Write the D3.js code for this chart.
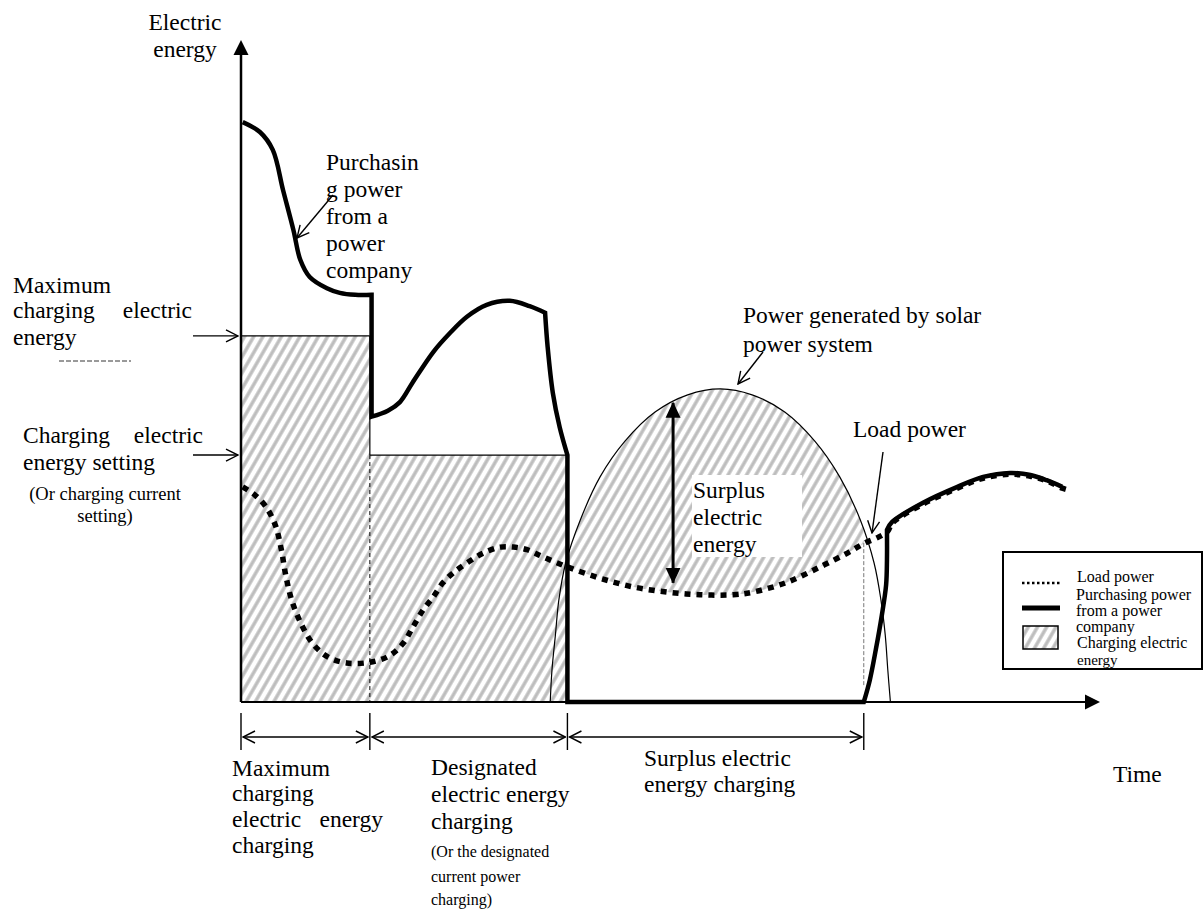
<!DOCTYPE html>
<html>
<head>
  <meta charset="utf-8">
  <script src="https://d3js.org/d3.v7.min.js"></script>
  <style>
    body { margin: 0; background: #fff; }
    text { font-family: 'Liberation Serif', 'Times New Roman', serif; fill: #000; }
    .thin { fill: none; stroke: #000; stroke-width: 1.2px; }
    .purchase { fill: none; stroke: #000; stroke-width: 4.5px; stroke-linejoin: miter; }
    .load { fill: none; stroke: #000; stroke-width: 5.5px; stroke-dasharray: 6 6; }
  </style>
</head>
<body>
<div id="chart"></div>
<script>
  // schematic units: time 0..100 along x, electric energy 0..100 along y

  // load power (dotted)
  var loadT = [0.2, 1.6, 2.9, 4.0, 4.7, 5.2, 5.9, 6.9, 8.3, 10.1, 12.3, 15.0, 17.3, 18.9, 20.0, 21.2,
               22.4, 23.5, 24.7, 26.3, 28.2, 30.2, 31.7, 33.3, 35.2, 38.0, 41.8, 45.6, 49.6, 53.4,
               57.3, 59.6, 63.6, 67.4, 70.6, 72.6, 74.2, 75.3, 75.8, 79.4, 83.4, 86.4, 89.5, 91.9,
               93.8, 95.6, 96.7];
  var loadE = [32.5, 31.3, 29.5, 26.7, 23.0, 19.2, 15.4, 12.1, 8.9, 6.8, 5.9, 6.0, 7.0, 8.9, 11.3, 13.9,
               15.9, 18.0, 19.5, 21.0, 22.5, 23.4, 23.4, 23.0, 21.9, 20.4, 18.7, 17.4, 16.6, 16.2,
               16.2, 16.6, 18.1, 20.4, 22.5, 24.0, 24.9, 25.8, 27.0, 29.9, 32.3, 33.8, 34.4, 34.1,
               33.4, 32.3, 31.9];

  // purchasing power from a power company (thick)
  var purchaseT = [0.2, 2.2, 3.7, 4.9, 6.1, 6.9, 8.0, 10.0, 11.5, 13.3, 15.2, 15.2, 17.1, 18.5, 20.0,
                   22.4, 24.3, 26.3, 28.6, 31.3, 33.6, 35.4, 35.7, 36.3, 37.1, 38.0, 38.0, 72.5, 73.2,
                   73.9, 74.6, 75.1, 75.2, 75.2, 75.8, 79.4, 83.4, 86.4, 89.5, 91.9, 93.8, 95.6];
  var purchaseE = [87.6, 86.1, 83.4, 77.3, 71.3, 66.8, 64.2, 62.5, 61.8, 61.5, 61.5, 43.1, 44.0, 45.3, 48.3,
                   52.9, 55.7, 58.2, 60.0, 60.6, 59.8, 58.8, 53.6, 46.7, 41.5, 37.3, 0, 0, 3.3,
                   7.9, 13.1, 17.7, 21.5, 26.0, 27.2, 30.1, 32.5, 34.0, 34.6, 34.3, 33.5, 32.5];
  // indexes where the purchase line has a sharp corner
  var purchaseCorners = [10, 11, 21, 25, 26, 27, 33];

  // power generated by the solar power system
  var solarT = [36.0, 36.2, 36.6, 37.0, 37.8, 39.5, 41.8, 44.7, 48.2, 52.0, 55.8, 59.5, 63.3, 66.8,
                69.7, 72.1, 73.7, 74.5, 75.0, 75.3, 75.6];
  var solarE = [0, 4.8, 10.1, 15.4, 21.0, 27.5, 34.0, 39.4, 43.8, 46.4, 47.3, 46.4, 43.8, 39.4,
                34.0, 27.5, 21.0, 15.4, 10.1, 4.8, 0];

  // charging phases and levels
  var phaseBounds = [0, 15.0, 38.0, 72.5];
  var maxChargeLevel = 55.3;
  var chargeSettingLevel = 37.3;
  var loadAtSurplusEnd = 24.0;
  var surplusArrowT = 50.3, surplusArrowE = [18.0, 45.2];

  /* setup */
  var width = 1204, height = 914;
  var svg = d3.select("#chart").append("svg")
      .attr("width", width).attr("height", height);

  var x = d3.scaleLinear().domain([0, 100]).range([241, 1100]);
  var y = d3.scaleLinear().domain([0, 100]).range([702, 40]);

  var line = d3.line()
      .x(function(d) { return x(d[0]); })
      .y(function(d) { return y(d[1]); })
      .curve(d3.curveCatmullRom.alpha(0.5));

  var defs = svg.append("defs");

  // grey diagonal hatching
  var pat = defs.append("pattern")
      .attr("id", "hatch")
      .attr("patternUnits", "userSpaceOnUse")
      .attr("width", 8).attr("height", 8)
      .attr("patternTransform", "rotate(30)");
  pat.append("line")
      .attr("x1", 4).attr("y1", -1).attr("x2", 4).attr("y2", 9)
      .attr("stroke", "#bdbdbd").attr("stroke-width", 3.4);

  // open arrow head
  defs.append("marker")
      .attr("id", "open")
      .attr("viewBox", "0 0 14 14")
      .attr("refX", 13).attr("refY", 7)
      .attr("markerWidth", 14).attr("markerHeight", 14)
      .attr("markerUnits", "userSpaceOnUse")
      .attr("orient", "auto-start-reverse")
    .append("path")
      .attr("d", "M1,1 L13,7 L1,13")
      .attr("fill", "none").attr("stroke", "#000").attr("stroke-width", 1.4);

  // filled arrow head
  defs.append("marker")
      .attr("id", "solid")
      .attr("viewBox", "0 0 16 16")
      .attr("refX", 15).attr("refY", 8)
      .attr("markerWidth", 16).attr("markerHeight", 16)
      .attr("markerUnits", "userSpaceOnUse")
      .attr("orient", "auto-start-reverse")
    .append("path")
      .attr("d", "M0,0.5 L16,8 L0,15.5 Z")
      .attr("fill", "#000");

  var loadPts = d3.zip(loadT, loadE);
  var solarPts = d3.zip(solarT, solarE);

  // clip: everything above the load curve
  var loadPath = line(loadPts);
  defs.append("clipPath").attr("id", "aboveLoad")
    .append("path")
      .attr("d", loadPath + "L" + x(loadT[loadT.length - 1]) + "," + y(100) +
                 "L" + x(loadT[0]) + "," + y(100) + "Z");
  defs.append("clipPath").attr("id", "surplusSpan")
    .append("rect")
      .attr("x", x(phaseBounds[2])).attr("y", 0)
      .attr("width", x(phaseBounds[3]) - x(phaseBounds[2]))
      .attr("height", y(0));

  /* hatched charging areas */
  svg.append("rect")
      .attr("x", x(phaseBounds[0])).attr("y", y(maxChargeLevel))
      .attr("width", x(phaseBounds[1]) - x(phaseBounds[0]))
      .attr("height", y(0) - y(maxChargeLevel))
      .attr("fill", "url(#hatch)");
  svg.append("rect")
      .attr("x", x(phaseBounds[1])).attr("y", y(chargeSettingLevel))
      .attr("width", x(phaseBounds[2]) - x(phaseBounds[1]))
      .attr("height", y(0) - y(chargeSettingLevel))
      .attr("fill", "url(#hatch)");
  svg.append("g").attr("clip-path", "url(#surplusSpan)")
    .append("path")
      .attr("d", line(solarPts) + "Z")
      .attr("clip-path", "url(#aboveLoad)")
      .attr("fill", "url(#hatch)");

  // white box behind the surplus label
  svg.append("rect")
      .attr("x", 692).attr("y", 475).attr("width", 110).attr("height", 82)
      .attr("fill", "#fff");

  /* thin guide lines */
  svg.append("line").attr("class", "thin")
      .attr("x1", x(phaseBounds[0])).attr("x2", x(phaseBounds[1]))
      .attr("y1", y(maxChargeLevel)).attr("y2", y(maxChargeLevel));
  svg.append("line").attr("class", "thin")
      .attr("x1", x(phaseBounds[1])).attr("x2", x(phaseBounds[2]))
      .attr("y1", y(chargeSettingLevel)).attr("y2", y(chargeSettingLevel));
  svg.append("line").attr("class", "thin")
      .attr("x1", x(phaseBounds[1])).attr("x2", x(phaseBounds[1]))
      .attr("y1", y(maxChargeLevel)).attr("y2", y(chargeSettingLevel));
  svg.append("line").attr("class", "thin")
      .attr("x1", x(phaseBounds[1])).attr("x2", x(phaseBounds[1]))
      .attr("y1", y(chargeSettingLevel)).attr("y2", y(0))
      .style("stroke-width", "1px").style("stroke-dasharray", "4 3");
  svg.append("line").attr("class", "thin")
      .attr("x1", x(phaseBounds[3])).attr("x2", x(phaseBounds[3]))
      .attr("y1", y(loadAtSurplusEnd)).attr("y2", y(2.5))
      .style("stroke", "#777").style("stroke-width", "1px").style("stroke-dasharray", "4 2");

  // solar generation arc
  svg.append("path").attr("class", "thin").attr("d", line(solarPts));

  /* axes */
  svg.append("line")
      .attr("x1", x(0)).attr("y1", y(0)).attr("x2", x(0)).attr("y2", y(100) + 14)
      .attr("stroke", "#000").attr("stroke-width", 2.5);
  svg.append("path")
      .attr("d", "M" + x(0) + "," + y(100) + " l-7.5,15 l15,0 Z");
  svg.append("line")
      .attr("x1", x(0)).attr("y1", y(0)).attr("x2", x(100) - 14).attr("y2", y(0))
      .attr("stroke", "#000").attr("stroke-width", 2);
  svg.append("path")
      .attr("d", "M" + x(100) + "," + y(0) + " l-15,-7.5 l0,15 Z");

  /* load & purchase lines */
  svg.append("path").attr("class", "load").attr("d", loadPath);

  function piecewise(ts, es, corners) {
    var cuts = [0].concat(corners, [ts.length - 1]);
    var d = "";
    for (var i = 0; i < cuts.length - 1; i++) {
      var pts = d3.range(cuts[i], cuts[i + 1] + 1).map(function(k) { return [ts[k], es[k]]; });
      var s = line(pts);
      d += (i === 0) ? s : s.replace(/^M/, "L");
    }
    return d;
  }
  svg.append("path").attr("class", "purchase")
      .attr("d", piecewise(purchaseT, purchaseE, purchaseCorners));

  // surplus double arrow
  svg.append("line")
      .attr("x1", x(surplusArrowT)).attr("x2", x(surplusArrowT))
      .attr("y1", y(surplusArrowE[0])).attr("y2", y(surplusArrowE[1]))
      .attr("stroke", "#000").attr("stroke-width", 3)
      .attr("marker-start", "url(#solid)").attr("marker-end", "url(#solid)");

  /* helpers for annotation */
  function label(px, py, str, size, anchor) {
    return svg.append("text")
        .attr("x", px).attr("y", py)
        .attr("font-size", size + "px")
        .attr("text-anchor", anchor || "start")
        .text(str);
  }
  function pointer(x1, y1, x2, y2, twoWay) {
    var l = svg.append("line")
        .attr("x1", x1).attr("y1", y1).attr("x2", x2).attr("y2", y2)
        .attr("stroke", "#000").attr("stroke-width", 1.4)
        .attr("marker-end", "url(#open)");
    if (twoWay) l.attr("marker-start", "url(#open)");
  }

  var big = 23.5, mid = 18.5, small = 16;

  // axis titles
  label(185, 30, "Electric", big, "middle");
  label(185, 57, "energy", big, "middle");
  label(1113, 782, "Time", big);

  // left side labels
  label(13, 293, "Maximum", big);
  label(13, 318, "charging", big);
  label(192, 318, "electric", big, "end");
  label(13, 345, "energy", big);
  svg.append("line")
      .attr("x1", 59).attr("x2", 131).attr("y1", 361).attr("y2", 361)
      .attr("stroke", "#000").attr("stroke-width", 0.8).attr("stroke-dasharray", "5 2");
  pointer(193, y(maxChargeLevel), 238, y(maxChargeLevel));

  label(23, 443, "Charging", big);
  label(203, 443, "electric", big, "end");
  label(23, 470, "energy setting", big);
  label(105, 500, "(Or charging current", mid, "middle");
  label(105, 522, "setting)", mid, "middle");
  pointer(193, y(chargeSettingLevel), 238, y(chargeSettingLevel));

  // purchase label
  ["Purchasin", "g power", "from a", "power", "company"].forEach(function(s, i) {
    label(326, 170 + i * 27, s, big);
  });
  pointer(333, 195, 297, 238);

  // solar label
  label(743, 323, "Power generated by solar", big);
  label(743, 352, "power system", big);
  pointer(763, 352, 738, 384);

  // load label
  label(853, 437, "Load power", big);
  pointer(883, 452, 872, 533);

  // surplus label
  label(693, 498, "Surplus", big);
  label(693, 525, "electric", big);
  label(693, 552, "energy", big);

  /* phase brackets under the time axis */
  phaseBounds.forEach(function(b) {
    svg.append("line")
        .attr("x1", x(b)).attr("x2", x(b)).attr("y1", 713).attr("y2", 750)
        .attr("stroke", "#000").attr("stroke-width", 1.4);
  });
  for (var i = 0; i < phaseBounds.length - 1; i++) {
    pointer(x(phaseBounds[i]) + 2, 737, x(phaseBounds[i + 1]) - 2, 737, true);
  }

  label(232, 776, "Maximum", big);
  label(232, 801, "charging", big);
  label(232, 827, "electric", big);
  label(383, 827, "energy", big, "end");
  label(232, 853, "charging", big);

  label(431, 775, "Designated", big);
  label(431, 802, "electric energy", big);
  label(431, 829, "charging", big);
  label(431, 857, "(Or the designated", small);
  label(431, 882, "current power", small);
  label(431, 905, "charging)", small);

  label(644, 766, "Surplus electric", big);
  label(644, 792, "energy charging", big);

  /* legend */
  var lg = svg.append("g");
  lg.append("rect")
      .attr("x", 1003).attr("y", 552).attr("width", 199).attr("height", 117)
      .attr("fill", "#fff").attr("stroke", "#000").attr("stroke-width", 2);
  lg.append("line")
      .attr("x1", 1022).attr("x2", 1060).attr("y1", 583).attr("y2", 583)
      .attr("stroke", "#000").attr("stroke-width", 2.5).attr("stroke-dasharray", "2.5 2.5");
  lg.append("line")
      .attr("x1", 1022).attr("x2", 1060).attr("y1", 608).attr("y2", 608)
      .attr("stroke", "#000").attr("stroke-width", 5);
  lg.append("rect")
      .attr("x", 1023).attr("y", 626).attr("width", 35).attr("height", 23)
      .attr("fill", "url(#hatch)").attr("stroke", "#000").attr("stroke-width", 1.5);
  label(1077, 582, "Load power", small);
  label(1076, 600, "Purchasing power", small);
  label(1076, 616, "from a power", small);
  label(1076, 632, "company", small);
  label(1077, 648, "Charging electric", small);
  label(1077, 665, "energy", 15);
</script>
</body>
</html>
